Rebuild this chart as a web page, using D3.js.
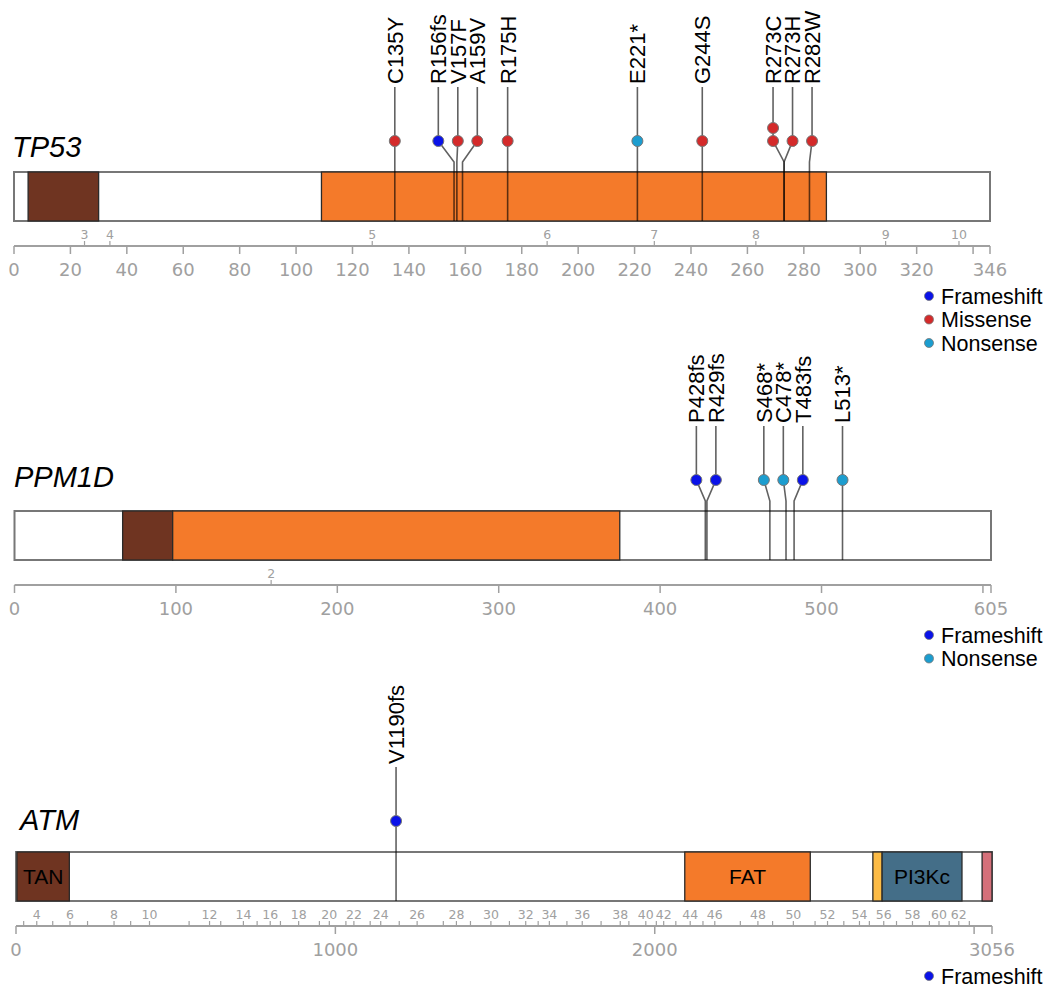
<!DOCTYPE html>
<html>
<head>
<meta charset="utf-8">
<script src="https://cdn.jsdelivr.net/npm/d3@7"></script>
<style>
  body { margin: 0; background: #fff; }
</style>
</head>
<body>
<script>
// ---- data ----
const genes = ["TP53", "PPM1D", "ATM"];
const geneLengths = [346, 605, 3056];

const tp53Domains = [
  { name: "P53_TAD", label: "", start: 5, end: 30, family: "tad" },
  { name: "P53", label: "", start: 109, end: 288, family: "core" }
];
const ppm1dDomains = [
  { name: "PP2C_N", label: "", start: 67, end: 98, family: "tad" },
  { name: "PP2C", label: "", start: 98, end: 375, family: "core" }
];
const atmDomains = [
  { name: "TAN", label: "TAN", start: 3, end: 167, family: "tad" },
  { name: "FAT", label: "FAT", start: 2094, end: 2487, family: "core" },
  { name: "PI3K_rd", label: "", start: 2683, end: 2712, family: "rd" },
  { name: "PI3Kc", label: "PI3Kc", start: 2712, end: 2962, family: "kinase" },
  { name: "FATC", label: "", start: 3025, end: 3056, family: "fatc" }
];

const tp53Mutations = [
  { label: "C135Y", pos: 135, type: "Missense", count: 1 },
  { label: "R156fs", pos: 156, type: "Frameshift", count: 1 },
  { label: "V157F", pos: 157, type: "Missense", count: 1 },
  { label: "A159V", pos: 159, type: "Missense", count: 1 },
  { label: "R175H", pos: 175, type: "Missense", count: 1 },
  { label: "E221*", pos: 221, type: "Nonsense", count: 1 },
  { label: "G244S", pos: 244, type: "Missense", count: 1 },
  { label: "R273C", pos: 273, type: "Missense", count: 2 },
  { label: "R273H", pos: 273, type: "Missense", count: 1 },
  { label: "R282W", pos: 282, type: "Missense", count: 1 }
];
const ppm1dMutations = [
  { label: "P428fs", pos: 428, type: "Frameshift", count: 1 },
  { label: "R429fs", pos: 429, type: "Frameshift", count: 1 },
  { label: "S468*", pos: 468, type: "Nonsense", count: 1 },
  { label: "C478*", pos: 478, type: "Nonsense", count: 1 },
  { label: "T483fs", pos: 483, type: "Frameshift", count: 1 },
  { label: "L513*", pos: 513, type: "Nonsense", count: 1 }
];
const atmMutations = [
  { label: "V1190fs", pos: 1190, type: "Frameshift", count: 1 }
];

// exon start positions (amino acids); first exon number given separately
const tp53ExonFirst = 3;
const tp53ExonStarts = [25, 34, 127, 189, 227, 263, 309, 335];
const ppm1dExonFirst = 2;
const ppm1dExonStarts = [159];
const atmExonFirst = 3;
const atmExonStarts = [24, 65, 115, 169, 224, 307, 359, 418, 542, 606, 641, 712, 755, 796, 828,
  885, 950, 981, 1033, 1058, 1109, 1142, 1200, 1256, 1338, 1379, 1423, 1487, 1545, 1596, 1635,
  1670, 1725, 1773, 1832, 1892, 1919, 1972, 2005, 2028, 2066, 2111, 2151, 2188, 2268, 2323,
  2369, 2434, 2502, 2541, 2592, 2641, 2672, 2717, 2757, 2807, 2860, 2890, 2922, 2952, 2985];

const tp53Ticks = [0, 20, 40, 60, 80, 100, 120, 140, 160, 180, 200, 220, 240, 260, 280, 300, 320, 340, 346];
const ppm1dTicks = [0, 100, 200, 300, 400, 500, 600, 605];
const atmTicks = [0, 1000, 2000, 3000, 3056];

const mutationTypes = ["Frameshift", "Missense", "Nonsense"];

// ---- styling / layout ----
const typeColor = d3.scaleOrdinal()
  .domain(mutationTypes)
  .range(["#0a12e8", "#d42a2a", "#1c9dcf"]);

const domainColor = {
  tad: "#6f3421",
  core: "#f47a2a",
  rd: "#fcbb45",
  kinase: "#446e88",
  fatc: "#d5707a"
};

const panels = [
  { gene: genes[0], length: geneLengths[0], domains: tp53Domains, mutations: tp53Mutations,
    exonFirst: tp53ExonFirst, exons: tp53ExonStarts, exonLabelEvery: 1, ticks: tp53Ticks,
    top: 172, x0: 14, x1: 990, nameX: 12, nameY: 157 },
  { gene: genes[1], length: geneLengths[1], domains: ppm1dDomains, mutations: ppm1dMutations,
    exonFirst: ppm1dExonFirst, exons: ppm1dExonStarts, exonLabelEvery: 1, ticks: ppm1dTicks,
    top: 511, x0: 14.5, x1: 991, nameX: 14, nameY: 487 },
  { gene: genes[2], length: geneLengths[2], domains: atmDomains, mutations: atmMutations,
    exonFirst: atmExonFirst, exons: atmExonStarts, exonLabelEvery: 2, ticks: atmTicks,
    top: 852, x0: 16, x1: 992, nameX: 20, nameY: 830 }
];

const barH = 49;
const popGap = 19.5;
const radius = 5.5;
const stackStep = 13;
const sansFont = "'Liberation Sans', Arial, sans-serif";
const axisFont = "'DejaVu Sans', sans-serif";
const gray = "#a0a0a0";

const svg = d3.select("body")
  .append("svg")
    .attr("width", 1051)
    .attr("height", 989);

// push crowded lollipop heads apart so labels don't collide
function spread(xs, gap) {
  const p = xs.slice();
  for (let it = 0; it < 500; it++) {
    let moved = false;
    for (let i = 1; i < p.length; i++) {
      const d = p[i] - p[i - 1];
      if (d < gap - 0.01) {
        const s = (gap - d) / 2;
        p[i - 1] -= s;
        p[i] += s;
        moved = true;
      }
    }
    if (!moved) break;
  }
  return p;
}

panels.forEach(panel => {
  const x = d3.scaleLinear()
    .domain([0, panel.length])
    .range([panel.x0, panel.x1]);

  const y0 = panel.top;
  const g = svg.append("g").attr("class", "panel");

  // gene name
  g.append("text")
    .attr("x", panel.nameX)
    .attr("y", panel.nameY)
    .style("font-family", sansFont)
    .style("font-style", "italic")
    .style("font-size", "29px")
    .text(panel.gene);

  // protein backbone
  g.append("rect")
    .attr("x", x(0))
    .attr("y", y0)
    .attr("width", x(panel.length) - x(0))
    .attr("height", barH)
    .attr("fill", "#fff")
    .attr("stroke", "#777")
    .attr("stroke-width", 2);

  // domains
  g.selectAll(".domain")
    .data(panel.domains)
    .join("rect")
      .attr("class", "domain")
      .attr("x", d => x(d.start))
      .attr("y", y0)
      .attr("width", d => x(d.end) - x(d.start))
      .attr("height", barH)
      .attr("fill", d => domainColor[d.family])
      .attr("stroke", "#2a2a2a")
      .attr("stroke-width", 1.3);

  g.selectAll(".domain-label")
    .data(panel.domains.filter(d => d.label))
    .join("text")
      .attr("class", "domain-label")
      .attr("x", d => (x(d.start) + x(d.end)) / 2)
      .attr("y", y0 + barH / 2)
      .attr("dy", "0.35em")
      .attr("text-anchor", "middle")
      .style("font-family", sansFont)
      .style("font-size", "21px")
      .text(d => d.label);

  // axis
  const axisY = y0 + 74;
  g.append("line")
    .attr("x1", x(0)).attr("x2", x(panel.length))
    .attr("y1", axisY).attr("y2", axisY)
    .attr("stroke", gray)
    .attr("stroke-width", 2);

  const lastTick = panel.ticks[panel.ticks.length - 1];
  g.selectAll(".tick")
    .data(panel.ticks)
    .join("line")
      .attr("class", "tick")
      .attr("x1", d => x(d)).attr("x2", d => x(d))
      .attr("y1", axisY).attr("y2", axisY + 8)
      .attr("stroke", gray)
      .attr("stroke-width", 1.5);

  g.selectAll(".tick-label")
    .data(panel.ticks.filter(d => d === lastTick || x(lastTick) - x(d) > 30))
    .join("text")
      .attr("class", "tick-label")
      .attr("x", d => x(d))
      .attr("y", axisY + 30)
      .attr("text-anchor", "middle")
      .style("font-family", axisFont)
      .style("font-size", "18px")
      .style("fill", gray)
      .text(d => d);

  // exon marks
  const exons = panel.exons.map((pos, i) => ({ pos, n: panel.exonFirst + i }));
  g.selectAll(".exon-tick")
    .data(exons)
    .join("line")
      .attr("class", "exon-tick")
      .attr("x1", d => x(d.pos)).attr("x2", d => x(d.pos))
      .attr("y1", axisY).attr("y2", axisY - 5)
      .attr("stroke", gray)
      .attr("stroke-width", 1.2);

  g.selectAll(".exon-label")
    .data(exons.filter(d => d.n % panel.exonLabelEvery === 0))
    .join("text")
      .attr("class", "exon-label")
      .attr("x", d => x(d.pos))
      .attr("y", axisY - 7)
      .attr("text-anchor", "middle")
      .style("font-family", axisFont)
      .style("font-size", "12.5px")
      .style("fill", gray)
      .text(d => d.n);

  // lollipops
  const muts = panel.mutations.slice().sort((a, b) => a.pos - b.pos);
  const heads = spread(muts.map(d => x(d.pos)), popGap);
  muts.forEach((d, i) => { d.cx = heads[i]; });

  const headY = y0 - 31;
  const bendY = y0 - 10;
  const lineTop = y0 - 85;
  const labelY = y0 - 88;

  g.selectAll(".stem")
    .data(muts)
    .join("path")
      .attr("class", "stem")
      .attr("d", d => `M${d.cx},${lineTop}L${d.cx},${headY}L${x(d.pos)},${bendY}L${x(d.pos)},${y0 + barH}`)
      .attr("fill", "none")
      .attr("stroke", "#000")
      .attr("stroke-opacity", 0.62)
      .attr("stroke-width", 1.6);

  const headDots = muts.flatMap(d => d3.range(d.count).map(k => ({ m: d, k })));
  g.selectAll(".head")
    .data(headDots)
    .join("circle")
      .attr("class", "head")
      .attr("cx", d => d.m.cx)
      .attr("cy", d => headY - d.k * stackStep)
      .attr("r", radius)
      .attr("fill", d => typeColor(d.m.type))
      .attr("stroke", "#777")
      .attr("stroke-width", 1);

  g.selectAll(".mut-label")
    .data(muts)
    .join("text")
      .attr("class", "mut-label")
      .attr("transform", d => `translate(${d.cx},${labelY}) rotate(-90)`)
      .attr("dy", "0.36em")
      .style("font-family", sansFont)
      .style("font-size", "22px")
      .text(d => d.label);

  // legend
  const present = mutationTypes.filter(t => panel.mutations.some(m => m.type === t));
  const legend = g.append("g")
    .attr("transform", `translate(929,${y0 + 124})`);
  legend.selectAll(".legend-item")
    .data(present)
    .join("g")
      .attr("class", "legend-item")
      .each(function(t, i) {
        d3.select(this).append("circle")
          .attr("cx", 0)
          .attr("cy", i * 23.5)
          .attr("r", 4.5)
          .attr("fill", typeColor(t))
          .attr("stroke", "#777")
          .attr("stroke-width", 0.8);
        d3.select(this).append("text")
          .attr("x", 12)
          .attr("y", i * 23.5)
          .attr("dy", "0.35em")
          .style("font-family", sansFont)
          .style("font-size", "21.5px")
          .text(t);
      });
});
</script>
</body>
</html>
